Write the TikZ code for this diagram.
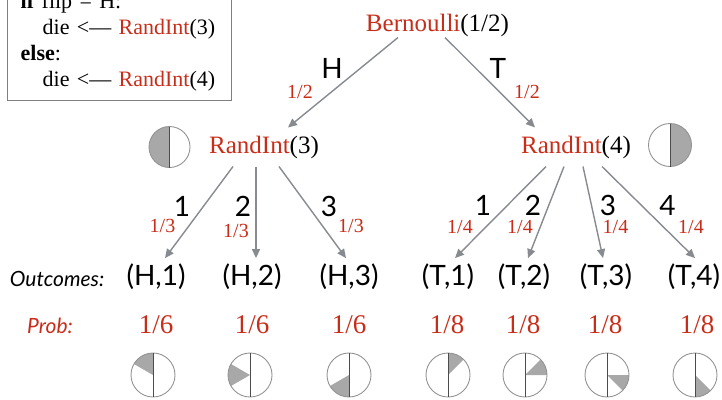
\documentclass[tikz,border=0pt]{standalone}
\usepackage{fontspec}
\setmainfont{Liberation Serif}
\setsansfont{Lato}
\usepackage{xcolor}
\usetikzlibrary{arrows.meta}

\definecolor{probred}{RGB}{200,45,25}
\definecolor{edgegray}{RGB}{135,138,142}
\definecolor{piegray}{RGB}{168,168,168}
\newcommand{\setfs}[1]{\fontsize{#1}{#1}\selectfont}

\begin{document}
\begin{tikzpicture}[
  x=1pt, y=1pt,
  rv/.style={inner sep=8pt, font=\setfs{25}, anchor=base},
  branch/.style={inner sep=0pt, font=\sffamily\setfs{28}, anchor=base},
  frac/.style={inner sep=0pt, text=probred, font=\setfs{20}, anchor=base},
  outcome/.style={inner sep=5pt, font=\sffamily\setfs{28}, anchor=base},
  prob/.style={inner sep=0pt, text=probred, font=\setfs{27}, anchor=base},
  rowlabel/.style={inner sep=0pt, font=\sffamily\itshape\setfs{21}, anchor=base},
  arrow/.style={-{Triangle[length=9pt, width=8pt]}, draw=edgegray, line width=1.4pt},
  pieline/.style={draw=gray!85, line width=0.9pt},
]
\useasboundingbox (0,0) rectangle (722,-399);

% code box, cut at the top edge
\node[draw=gray, line width=1.4pt, anchor=south west, align=left,
      text width=198pt, inner xsep=13pt, inner ysep=9pt,
      font=\fontsize{22}{26}\selectfont] (code) at (7,-101)
  {\textbf{if} flip = H:\\
   \hspace*{22pt}die {<}--- \textcolor{probred}{RandInt}(3)\\
   \textbf{else}:\\
   \hspace*{22pt}die {<}--- \textcolor{probred}{RandInt}(4)};

% tree
\node[rv, inner sep=1pt] (bern) at (437.5,-31) {\textcolor{probred}{Bernoulli}(1/2)};
\node[rv] (r3) at (264,-153) {\textcolor{probred}{RandInt}(3)};
\node[rv] (r4) at (576,-153) {\textcolor{probred}{RandInt}(4)};

\node[outcome] (h1) at (156,-285) {(H,1)};
\node[outcome] (h2) at (252,-285) {(H,2)};
\node[outcome] (h3) at (349,-285) {(H,3)};
\node[outcome] (t1) at (448,-285) {(T,1)};
\node[outcome] (t2) at (524,-285) {(T,2)};
\node[outcome] (t3) at (606,-285) {(T,3)};
\node[outcome] (t4) at (694,-285) {(T,4)};

\draw[arrow] ([xshift=-39.5pt]bern.south) -- ([xshift=24pt]r3.north);
\draw[arrow] ([xshift=7.5pt]bern.south) -- ([xshift=-41pt]r4.north);
\draw[arrow] ([xshift=-31pt]r3.south) -- ([xshift=9pt]h1.north);
\draw[arrow] ([xshift=-8pt]r3.south) -- ([xshift=4pt]h2.north);
\draw[arrow] ([xshift=15pt]r3.south) -- ([xshift=-3pt]h3.north);
\draw[arrow] ([xshift=-30pt]r4.south) -- ([xshift=7pt]t1.north);
\draw[arrow] ([xshift=-12pt]r4.south) -- ([xshift=4pt]t2.north);
\draw[arrow] ([xshift=7pt]r4.south) -- ([xshift=-3pt]t3.north);
\draw[arrow] ([xshift=26pt]r4.south) -- ([xshift=1pt]t4.north);

% edge labels
\node[branch] (lh) at (332,-78) {H};
\node[frac] (fh) at (300,-98) {1/2};
\node[branch] (lt) at (498,-78) {T};
\node[frac] (ft) at (527,-98) {1/2};

\node[branch] (l31) at (182,-216) {1};
\node[frac] (f31) at (162.5,-232) {1/3};
\node[branch] (l32) at (243,-216) {2};
\node[frac] (f32) at (236,-237) {1/3};
\node[branch] (l33) at (329,-216) {3};
\node[frac] (f33) at (351,-232) {1/3};

\node[branch] (l41) at (483,-215) {1};
\node[frac] (f41) at (460,-233) {1/4};
\node[branch] (l42) at (533,-215) {2};
\node[frac] (f42) at (520,-233) {1/4};
\node[branch] (l43) at (608,-215) {3};
\node[frac] (f43) at (615.5,-233) {1/4};
\node[branch] (l44) at (667.5,-215) {4};
\node[frac] (f44) at (691,-233) {1/4};

% rows
\node[rowlabel] (outl) at (57,-286) {Outcomes:};
\node[rowlabel, text=probred] (probl) at (50,-333) {Prob:};
\node[prob] (p1) at (156,-333) {1/6};
\node[prob] (p2) at (252,-333) {1/6};
\node[prob] (p3) at (349,-333) {1/6};
\node[prob] (p4) at (447,-333) {1/8};
\node[prob] (p5) at (523,-333) {1/8};
\node[prob] (p6) at (605,-333) {1/8};
\node[prob] (p7) at (697,-333) {1/8};

% half pies next to the dice
\fill[piegray] (169.5,-126.5) arc[start angle=90, end angle=270, radius=20.5pt] -- cycle;
\draw[pieline] (169.5,-147) circle[radius=20.5pt];
\draw[pieline, draw=gray!60!black] (169.5,-126.5) -- (169.5,-167.5);
\fill[piegray] (670,-123.5) arc[start angle=90, end angle=-90, radius=21.5pt] -- cycle;
\draw[pieline] (670,-145) circle[radius=21.5pt];
\draw[pieline, draw=gray!60!black] (670,-123.5) -- (670,-166.5);

% pies for the outcomes
\foreach \cx/\a/\b in {153/90/150, 250/150/210, 349/210/270, 448/45/90, 525/0/45, 607/-45/0, 695/-90/-45} {
  \fill[piegray] (\cx,-375) -- ++(\a:22pt) arc[start angle=\a, end angle=\b, radius=22pt] -- cycle;
  \draw[pieline] (\cx,-375) circle[radius=22pt];
  \draw[pieline, draw=gray!60!black] (\cx,-353) -- (\cx,-397);
}
\end{tikzpicture}
\end{document}
